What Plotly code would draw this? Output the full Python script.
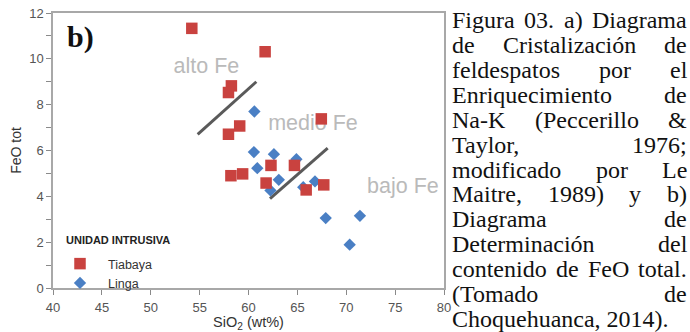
import plotly.graph_objects as go

# ---------------- data ----------------
tiabaya_sio2 = [54.2, 61.7, 58.25, 57.95, 59.1, 57.95, 67.45, 58.2, 59.4, 62.3, 64.7, 61.8, 65.9, 67.7]
tiabaya_feo = [11.33, 10.31, 8.82, 8.53, 7.07, 6.71, 7.38, 4.9, 4.98, 5.35, 5.35, 4.58, 4.28, 4.5]

linga_sio2 = [60.6, 60.55, 62.6, 64.9, 60.9, 63.1, 62.25, 65.6, 66.8, 67.9, 71.4, 70.35]
linga_feo = [7.7, 5.93, 5.84, 5.62, 5.23, 4.72, 4.26, 4.4, 4.65, 3.05, 3.15, 1.89]

# boundary lines between fields
line_alto_x = [54.8, 60.8]
line_alto_y = [6.7, 9.0]
line_bajo_x = [62.2, 68.1]
line_bajo_y = [3.9, 6.1]

# field labels
field_names = ["alto Fe", "medio Fe", "bajo Fe"]
field_x = [55.7, 66.6, 75.8]
field_y = [9.6, 7.15, 4.36]

x_ticks = [40, 45, 50, 55, 60, 65, 70, 75, 80]
y_ticks = [0, 2, 4, 6, 8, 10, 12]

caption_lines = [
    "Figura 03. a) Diagrama",
    "de Cristalización de",
    "feldespatos por el",
    "Enriquecimiento de",
    "Na-K (Peccerillo &",
    "Taylor, 1976;",
    "modificado por Le",
    "Maitre, 1989) y b)",
    "Diagrama de",
    "Determinación del",
    "contenido de FeO total.",
    "(Tomado de",
    "Choquehuanca, 2014).",
]

# ---------------- layout helpers ----------------
W, H = 690, 332
ML, MR, MT, MB = 53, 246, 13, 44
PW = W - ML - MR
PH = H - MT - MB


def pxx(x):
    return (x - ML) / PW


def pxy(y):
    return (H - MB - y) / PH


# Times / Liberation Serif advance widths (per 1000 em)
TW = {" ": 250, "&": 778, "(": 333, ")": 333, ",": 250, "-": 333, ".": 250, ";": 278,
      "A": 722, "B": 667, "C": 667, "D": 722, "E": 611, "F": 556, "G": 722, "H": 722, "I": 333,
      "J": 389, "K": 722, "L": 611, "M": 889, "N": 722, "O": 722, "P": 556, "Q": 722, "R": 667,
      "S": 556, "T": 611, "U": 722, "V": 722, "W": 944, "X": 722, "Y": 722, "Z": 611,
      "a": 444, "b": 500, "c": 444, "d": 500, "e": 444, "f": 333, "g": 500, "h": 500, "i": 278,
      "j": 278, "k": 500, "l": 278, "m": 778, "n": 500, "o": 500, "p": 500, "q": 500, "r": 333,
      "s": 389, "t": 278, "u": 500, "v": 500, "w": 722, "x": 500, "y": 500, "z": 444,
      "ó": 500}
CAP_SIZE = 24


def text_w(s, size):
    return sum(TW.get(c, 500) for c in s) / 1000.0 * size


CAP_L, CAP_R = 451, 686
CAP_Y0, CAP_DY = 20.5, 24.85

RED = "#c9423f"
BLUE = "#4a7fc4"

fig = go.Figure()

# field labels (under the markers)
fig.add_trace(go.Scatter(
    x=field_x, y=field_y, mode="text", text=field_names,
    textfont=dict(family="Liberation Sans, Arial", size=21.5, color="#bababa"),
    showlegend=False, hoverinfo="skip"))

# boundary lines
for lx, ly in [(line_alto_x, line_alto_y), (line_bajo_x, line_bajo_y)]:
    fig.add_trace(go.Scatter(x=lx, y=ly, mode="lines",
                             line=dict(color="#5a5a5a", width=3),
                             showlegend=False, hoverinfo="skip"))

fig.add_trace(go.Scatter(
    x=linga_sio2, y=linga_feo, mode="markers", name="Linga", legendrank=2,
    marker=dict(symbol="diamond", size=9.5, color=BLUE, line=dict(width=0))))
fig.add_trace(go.Scatter(
    x=tiabaya_sio2, y=tiabaya_feo, mode="markers", name="Tiabaya", legendrank=1,
    marker=dict(symbol="square", size=11.5, color=RED, line=dict(width=0))))

annotations = []
# panel letter
annotations.append(dict(text="<b>b)</b>", xref="paper", yref="paper",
                        x=pxx(65), y=pxy(37), xanchor="left", yanchor="middle",
                        showarrow=False,
                        font=dict(family="Liberation Serif, Times New Roman", size=30, color="#111")))
# legend title
annotations.append(dict(text="<b>UNIDAD INTRUSIVA</b>", xref="paper", yref="paper",
                        x=pxx(64), y=pxy(240), xanchor="left", yanchor="middle",
                        showarrow=False,
                        font=dict(family="Liberation Sans, Arial", size=11, color="#222")))

# justified caption
for i, line in enumerate(caption_lines):
    yc = CAP_Y0 + CAP_DY * i
    words = line.split(" ")
    last = (i == len(caption_lines) - 1)
    if last or len(words) == 1:
        annotations.append(dict(text=line.replace("&", "&amp;"), xref="paper", yref="paper",
                                x=pxx(CAP_L), y=pxy(yc), xanchor="left", yanchor="middle",
                                showarrow=False, borderpad=0,
                                font=dict(family="Liberation Serif", size=CAP_SIZE, color="#111")))
        continue
    widths = [text_w(wd, CAP_SIZE) for wd in words]
    gap = (CAP_R - CAP_L - sum(widths)) / (len(words) - 1)
    xpos = CAP_L
    for wd, wdt in zip(words, widths):
        annotations.append(dict(text=wd.replace("&", "&amp;"), xref="paper", yref="paper",
                                x=pxx(xpos), y=pxy(yc), xanchor="left", yanchor="middle",
                                showarrow=False, borderpad=0,
                                font=dict(family="Liberation Serif", size=CAP_SIZE, color="#111")))
        xpos += wdt + gap

axis_common = dict(showline=True, linecolor="#a8a8a8", linewidth=1.5, mirror=True,
                   showgrid=False, zeroline=False, ticks="outside", ticklen=5,
                   tickcolor="#8a8a8a", tickwidth=1, automargin=False,
                   tickfont=dict(family="Liberation Sans, Arial", size=13, color="#555"))

fig.update_layout(
    width=W, height=H,
    margin=dict(l=ML, r=MR, t=MT, b=MB, pad=0),
    paper_bgcolor="white", plot_bgcolor="white",
    xaxis=dict(range=[40, 80], tickvals=x_ticks, ticktext=[str(v) for v in x_ticks],
               ticklabelstandoff=2,
               title=dict(text="SiO<sub>2</sub> (wt%)", standoff=12,
                          font=dict(family="Liberation Sans, Arial", size=14.5, color="#333")),
               **axis_common),
    yaxis=dict(range=[0, 12], tickvals=y_ticks, ticktext=[str(v) for v in y_ticks],
               minor=dict(dtick=1, tick0=0, ticks="outside", ticklen=5, tickcolor="#8a8a8a"),
               title=dict(text="FeO tot", standoff=4,
                          font=dict(family="Liberation Sans, Arial", size=14, color="#333")),
               **axis_common),
    legend=dict(x=pxx(52), y=pxy(249), xanchor="left", yanchor="top",
                bgcolor="rgba(0,0,0,0)", itemwidth=46, tracegroupgap=0,
                font=dict(family="Liberation Sans, Arial", size=12.5, color="#333")),
    annotations=annotations,
    showlegend=True,
)

fig.write_html("out.html")
